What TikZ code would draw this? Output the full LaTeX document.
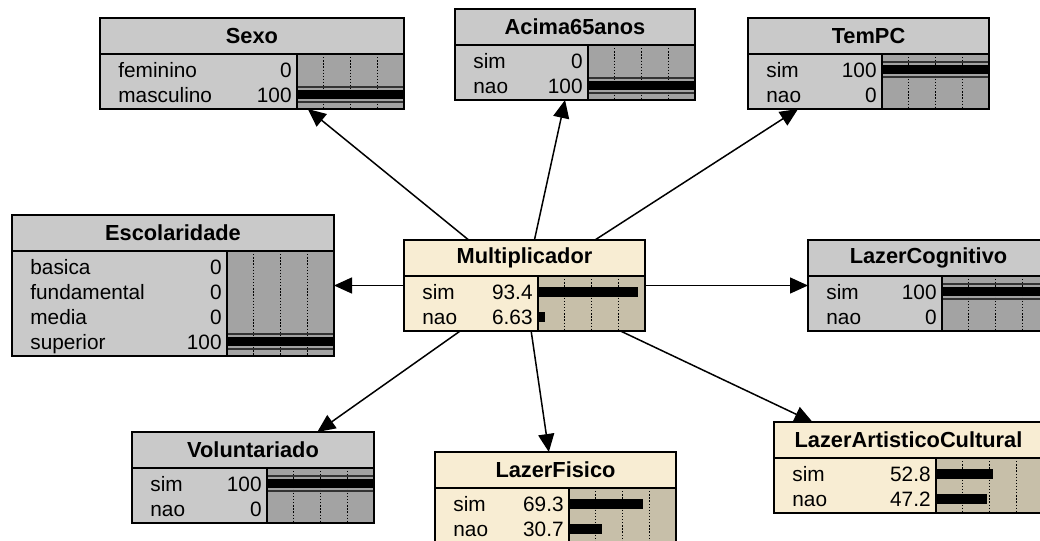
\documentclass[tikz,border=0pt]{standalone}
\usepackage{fontspec}
\setmainfont{Liberation Sans}
\usetikzlibrary{arrows.meta}

\definecolor{nodegray}{HTML}{C9C9C9}
\definecolor{bargray}{HTML}{A3A3A3}
\definecolor{nodetan}{HTML}{F8EDD3}
\definecolor{bartan}{HTML}{C7BFA9}

\tikzset{
  bnframe/.style={fill, inner sep=0pt, outer sep=0pt},
  bnline/.style={draw=black, line width=0.7pt},
  bnthin/.style={draw=black!80, line width=0.55pt},
  bngrid/.style={draw=black, line width=0.65pt, dash pattern=on 0.65pt off 0.9pt},
  bntext/.style={inner sep=0pt, font=\fontsize{10.4}{12}\selectfont},
  bntitle/.style={inner sep=0pt, font=\fontsize{10.9}{13}\selectfont\bfseries},
  bnarrow/.style={draw=black, line width=0.75pt, -{Triangle[length=9pt,width=8pt]}}
}

% A belief box: name, left, top, number of states, left of the bar area,
% fill colour, bar area colour, title
\newcommand{\bnbox}[8]{%
  \pgfmathsetmacro{\bL}{#2}%
  \pgfmathsetmacro{\bT}{#3}%
  \pgfmathsetmacro{\bbar}{#5}%
  \pgfmathsetmacro{\bR}{#5+107}%
  \pgfmathsetmacro{\bS}{#3+36}%
  \pgfmathsetmacro{\bB}{#3+41+25*#4}%
  \node[bnframe, fill=#6, anchor=north west,
        minimum width={(\bR-\bL)*0.5pt}, minimum height={(\bB-\bT)*0.5pt}] (#1) at (\bL,\bT) {};
  \fill[#7] (\bbar,\bS) rectangle (\bR,\bB);
  \foreach \q in {0.25,0.5,0.75}
    \draw[bngrid] ({\bbar+107*\q},\bS) -- ({\bbar+107*\q},\bB);
  \node[bntitle] at ({(\bL+\bR)/2},\bT+18) {#8};
}
% A state row with its belief bar: index, label, value, percent
\newcommand{\bnrow}[4]{%
  \pgfmathsetmacro{\rc}{\bS+16+25*(#1-1)}%
  \node[bntext, anchor=base west] at (\bL+18,\rc+7) {#2};
  \node[bntext, anchor=base east] at (\bbar-5,\rc+7) {#3};
  \fill[black] (\bbar,\rc-5) rectangle ({\bbar+1.07*#4},\rc+5);
}
% A state row set as a finding: index, label, value
\newcommand{\bnfound}[3]{%
  \pgfmathsetmacro{\rc}{\bS+16+25*(#1-1)}%
  \node[bntext, anchor=base west] at (\bL+18,\rc+7) {#2};
  \node[bntext, anchor=base east] at (\bbar-5,\rc+7) {#3};
  \draw[bnthin] (\bbar,\rc-8) -- (\bR,\rc-8) (\bbar,\rc+7) -- (\bR,\rc+7);
  \fill[black] (\bbar,\rc-5) rectangle (\bR,\rc+4);
}
% Outline and separators of the current box
\newcommand{\bnclose}{%
  \draw[bnline] (\bL,\bS) -- (\bR,\bS) (\bbar,\bS) -- (\bbar,\bB);
  \draw[bnline] (\bL,\bT) rectangle (\bR,\bB);
}

\begin{document}
\begin{tikzpicture}[x=0.5pt,y=-0.5pt]
\useasboundingbox (0,0) rectangle (1040,541);
\clip (0,0) rectangle (1040,541);

\bnbox{sexo}{100}{18}{2}{297}{nodegray}{bargray}{Sexo}
\bnrow{1}{feminino}{0}{0}
\bnfound{2}{masculino}{100}
\bnclose

\bnbox{acima}{455}{9}{2}{588}{nodegray}{bargray}{Acima65anos}
\bnrow{1}{sim}{0}{0}
\bnfound{2}{nao}{100}
\bnclose

\bnbox{tempc}{748}{18}{2}{882}{nodegray}{bargray}{TemPC}
\bnfound{1}{sim}{100}
\bnrow{2}{nao}{0}{0}
\bnclose

\bnbox{escol}{12}{215}{4}{227}{nodegray}{bargray}{Escolaridade}
\bnrow{1}{basica}{0}{0}
\bnrow{2}{fundamental}{0}{0}
\bnrow{3}{media}{0}{0}
\bnfound{4}{superior}{100}
\bnclose

\bnbox{mult}{404}{240}{2}{538}{nodetan}{bartan}{Multiplicador}
\bnrow{1}{sim}{93.4}{93.4}
\bnrow{2}{nao}{6.63}{6.63}
\bnclose

\bnbox{lcog}{808}{240}{2}{942}{nodegray}{bargray}{LazerCognitivo}
\bnfound{1}{sim}{100}
\bnrow{2}{nao}{0}{0}
\bnclose

\bnbox{volunt}{132}{432}{2}{267}{nodegray}{bargray}{Voluntariado}
\bnfound{1}{sim}{100}
\bnrow{2}{nao}{0}{0}
\bnclose

\bnbox{lfis}{435}{452}{2}{569}{nodetan}{bartan}{LazerFisico}
\bnrow{1}{sim}{69.3}{69.3}
\bnrow{2}{nao}{30.7}{30.7}
\bnclose

\bnbox{lart}{774}{422}{2}{936}{nodetan}{bartan}{LazerArtisticoCultural}
\bnrow{1}{sim}{52.8}{52.8}
\bnrow{2}{nao}{47.2}{47.2}
\bnclose

\foreach \t in {sexo,acima,tempc,escol,lcog,volunt,lfis,lart}
  \draw[bnarrow] (mult) -- (\t);
\end{tikzpicture}
\end{document}
